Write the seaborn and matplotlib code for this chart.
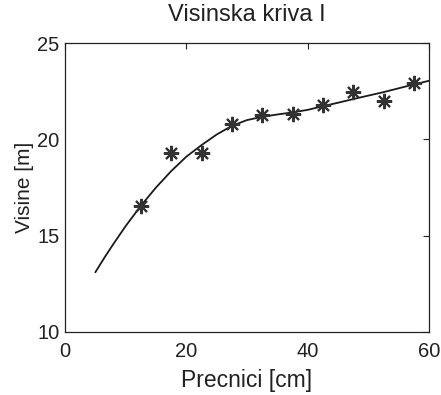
import matplotlib
matplotlib.use("Agg")
import matplotlib.pyplot as plt
import seaborn as sns
import pandas as pd

# measured points
precnici = [12.5, 17.5, 22.5, 27.5, 32.5, 37.5, 42.5, 47.5, 52.5, 57.5]
visine = [16.55, 19.3, 19.3, 20.8, 21.25, 21.3, 21.8, 22.45, 22.0, 22.95]

# fitted height curve
curve_x = [5, 6.5, 8, 10, 12.5, 15, 17.5, 20, 22.5, 25, 27.5, 30, 32.5, 35, 37.5, 40,
           42.5, 45, 47.5, 50, 52.5, 55, 57.5, 60]
curve_y = [13.1, 13.86, 14.58, 15.5, 16.55, 17.5, 18.35, 19.1, 19.7, 20.25, 20.7, 21.0,
           21.17, 21.29, 21.4, 21.53, 21.72, 21.9, 22.09, 22.27, 22.45, 22.65, 22.85, 23.04]

x_ticks = [0, 20, 40, 60]
y_ticks = [10, 15, 20, 25]

sns.set_style("white")
plt.rcParams['font.family'] = ['Liberation Sans', 'DejaVu Sans']

fig = plt.figure(figsize=(4.41, 3.95), dpi=100)
ax = fig.add_axes([0.1474, 0.1595, 0.8254, 0.7316])

df_pts = pd.DataFrame({"x": precnici, "y": visine})
df_curve = pd.DataFrame({"x": curve_x, "y": curve_y})

sns.lineplot(data=df_curve, x="x", y="y", ax=ax, color="#1a1a1a", linewidth=1.3, sort=True)
ax.plot(df_pts["x"], df_pts["y"], linestyle="none", marker=(8, 2, 0), markersize=11,
        markeredgewidth=1.5, color="#333333")

ax.set_xlim(0, 60)
ax.set_ylim(10, 25)
ax.set_xticks(x_ticks)
ax.set_yticks(y_ticks)
ax.tick_params(direction="in", top=True, right=True, length=4, width=0.8,
               labelsize=14.5, colors="#222222")
ax.tick_params(axis="x", pad=7)
ax.tick_params(axis="y", pad=4)
for s in ax.spines.values():
    s.set_visible(True)
    s.set_color("#222222")
    s.set_linewidth(0.9)

ax.set_xlabel("Precnici [cm]", fontsize=16.5, color="#222222", labelpad=6)
ax.set_ylabel("Visine [m]", fontsize=15, color="#222222", labelpad=2)
ax.set_title("Visinska kriva I", fontsize=17, color="#222222", pad=16)

fig.savefig("out.png", dpi=100)
